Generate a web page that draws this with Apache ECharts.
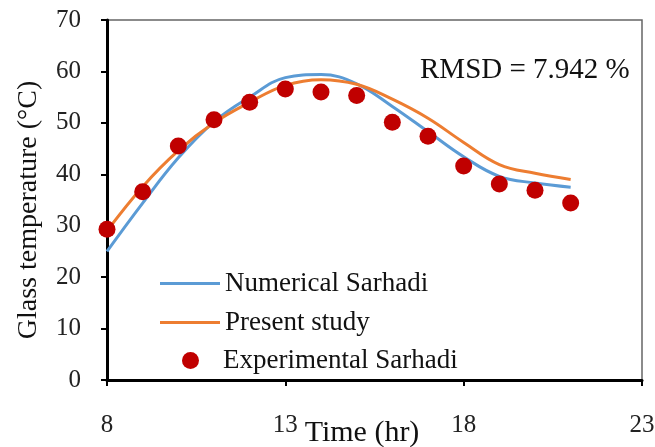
<!DOCTYPE html>
<html>
<head>
<meta charset="utf-8">
<script src="https://cdn.jsdelivr.net/npm/echarts@6/dist/echarts.min.js"></script>
<style>
  html, body { margin: 0; padding: 0; background: #fff; }
  #chart { width: 655px; height: 447px; }
</style>
</head>
<body>
<div id="chart"></div>
<script>
// 数据：时间 (hr) 和 玻璃温度 (°C)
const hours = [8, 9, 10, 11, 12, 13, 14, 15, 16, 17, 18, 19, 20, 21]
const numericalSarhadi = [25, 34.4, 43.2, 50.2, 55, 58.8, 59.4, 57.6, 53.2, 48.3, 43.4, 39.6, 38.3, 37.5]
const presentStudy = [29, 37.6, 44.6, 50, 54, 57.3, 58.4, 57.5, 54.6, 50.9, 46.2, 41.9, 40.2, 39]
const experimentalSarhadi = [29.3, 36.6, 45.5, 50.6, 54, 56.6, 56, 55.3, 50.1, 47.4, 41.6, 38.1, 36.9, 34.4]

const font = 'Liberation Serif'
const pair = arr => hours.map((h, i) => [h, arr[i]])

const chart = echarts.init(document.getElementById('chart'))

const legendText = { fontFamily: font, fontSize: 27, color: '#111' }

const option = {
  animation: false,
  textStyle: { fontFamily: font },
  grid: {
    left: 107,
    right: 13,
    top: 20,
    bottom: 67,
    outerBoundsMode: 'none',
    containLabel: false,
    show: true,
    borderColor: '#666',
    borderWidth: 1.5
  },
  graphic: [
    {
      type: 'text',
      left: 420,
      top: 56,
      style: { text: 'RMSD = 7.942 %', font: '29px "Liberation Serif"', fill: '#111' }
    }
  ],
  legend: [
    {
      data: [{ name: 'Numerical Sarhadi', icon: 'rect' }],
      left: 155, top: 265, itemWidth: 60, itemHeight: 3,
      textStyle: legendText
    },
    {
      data: [{ name: 'Present study', icon: 'rect' }],
      left: 155, top: 304, itemWidth: 60, itemHeight: 3,
      textStyle: legendText
    },
    {
      data: [{ name: 'Experimental Sarhadi', icon: 'circle' }],
      left: 177, top: 342, itemWidth: 17, itemHeight: 17,
      textStyle: Object.assign({ padding: [0, 0, 0, 19] }, legendText)
    }
  ],
  xAxis: {
    type: 'value',
    min: 8,
    max: 23,
    interval: 5,
    name: 'Time (hr)',
    nameLocation: 'middle',
    nameGap: 38,
    nameMoveOverlap: false,
    nameTextStyle: { fontFamily: font, fontSize: 30, color: '#111', padding: [0, 25, 0, 0] },
    axisLine: { lineStyle: { color: '#000', width: 3 } },
    axisTick: { show: true, length: 6, lineStyle: { color: '#000', width: 2 } },
    axisLabel: { margin: 33, fontFamily: font, fontSize: 25, color: '#222' },
    splitLine: { show: false }
  },
  yAxis: {
    type: 'value',
    min: 0,
    max: 70,
    interval: 10,
    name: 'Glass temperature (°C)',
    nameLocation: 'middle',
    nameGap: 64,
    nameTextStyle: { fontFamily: font, fontSize: 28, color: '#111', padding: [0, 20, 0, 0] },
    axisLine: { show: true, lineStyle: { color: '#000', width: 3 } },
    axisTick: { show: true, length: 6, lineStyle: { color: '#000', width: 2 } },
    axisLabel: { margin: 26, fontFamily: font, fontSize: 25, color: '#222' },
    splitLine: { show: false }
  },
  series: [
    {
      name: 'Numerical Sarhadi',
      type: 'line',
      smooth: 0.4,
      symbol: 'none',
      data: pair(numericalSarhadi),
      itemStyle: { color: '#5B9BD5' },
      lineStyle: { color: '#5B9BD5', width: 3 },
      z: 2
    },
    {
      name: 'Present study',
      type: 'line',
      smooth: 0.4,
      symbol: 'none',
      data: pair(presentStudy),
      itemStyle: { color: '#ED7D31' },
      lineStyle: { color: '#ED7D31', width: 3 },
      z: 3
    },
    {
      name: 'Experimental Sarhadi',
      type: 'scatter',
      symbol: 'circle',
      symbolSize: 17,
      data: pair(experimentalSarhadi),
      itemStyle: { color: '#C00000', opacity: 1 },
      z: 4
    }
  ]
}

chart.setOption(option)
</script>
</body>
</html>
